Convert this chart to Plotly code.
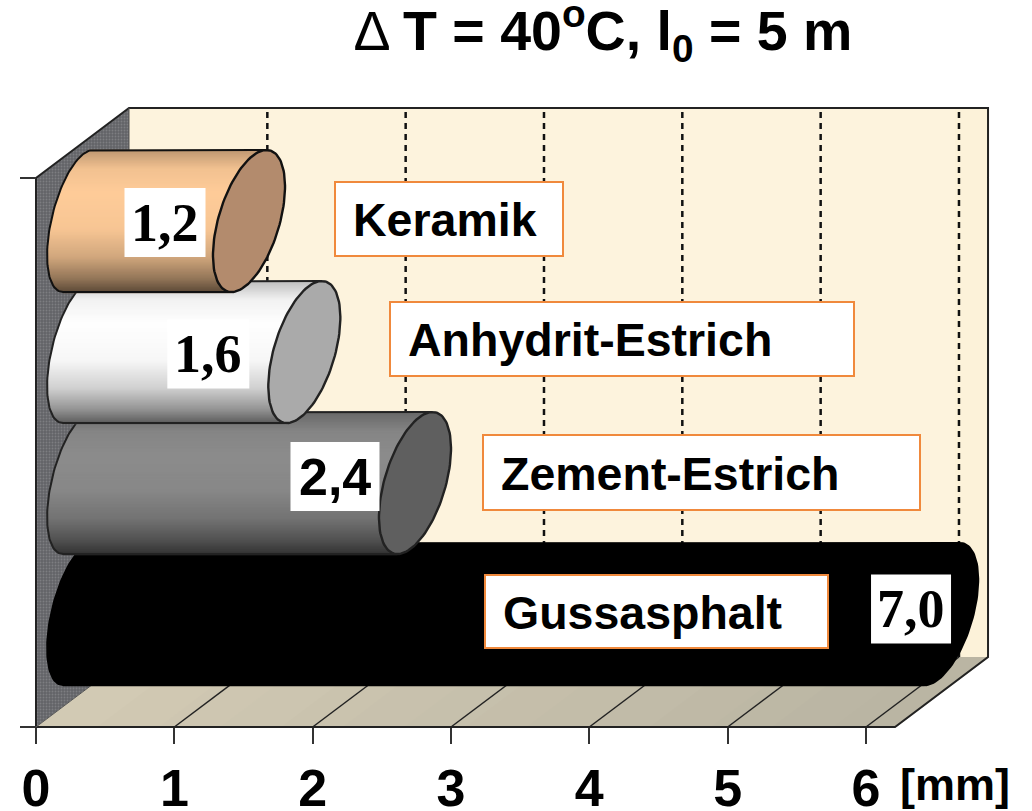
import numpy as np
import plotly.graph_objects as go

# ---- data ----
categories = ["Keramik", "Anhydrit-Estrich", "Zement-Estrich", "Gussasphalt"]
values = [1.2, 1.6, 2.4, 7.0]
value_labels = ["1,2", "1,6", "2,4", "7,0"]
x_ticks = [0, 1, 2, 3, 4, 5, 6]
x_tick_labels = ["0", "1", "2", "3", "4", "5", "6"]
unit_label = "[mm]"
title_text = "Δ <b>T = 40<sup>o</sup>C, l<sub>0</sub> = 5 m</b>"

# ---- styles / layout ----
W, H = 1032, 811
PX_MM, PX_BAND = 138.33, 137.25
X0, Y0 = 36, 727
AXIS_MAX = 6.21
BANDS = 4
DX, DY = 93 / PX_MM, 70 / PX_BAND
BODY_BASE = 47 / PX_MM
CLIP_MAX = 6.21
CYL_BOTTOM, CYL_STEP = 0.823, 131 / PX_BAND
ELL_A, ELL_K, ELL_B = 31.5 / PX_MM, 17.5 / PX_MM, 71 / PX_BAND
LEFT_C, LEFT_A, LEFT_K = -5 / PX_MM, 27 / PX_MM, 15 / PX_MM

base_colors = [(255, 204, 153), (255, 255, 255), (140, 140, 140), (0, 0, 0)]
cap_colors = ["#B38B6D", "#AAAAAA", "#5F5F5F", "#000000"]
outline_colors = ["#111111", "#222222", "#222222", "#000000"]
shade_pos = [0, .13, .3, .55, .75, .9, 1]
shade_val = [.75, .95, 1, .97, .82, .58, .36]
WALL, EDGE = "#FDF3DD", "#222222"
FLOOR_L, FLOOR_R = (210, 202, 180), (186, 181, 163)
ORANGE = "#F0893C"

SANS, SERIF = "Liberation Sans", "Liberation Serif"
value_fonts = [SERIF, SERIF, SANS, SERIF]
value_sizes = [54, 54, 52, 54]
value_box_off = [(-84, -1.5), (-96, -2), (-80, 6.5), (-31, 5)]
VALUE_BOX_W = [81, 82, 89, 80]
VALUE_BOX_H = 69
name_boxes = [(335, 563, 182, 256), (390, 854, 302, 376), (483, 920, 435, 510), (485, 828, 575, 648)]
NAME_PAD = 16
NAME_SIZE = 46.5


def xpx(p):
    return (p - X0) / PX_MM


def ypx(p):
    return (Y0 - p) / PX_BAND


fig = go.Figure()


def poly(xs, ys, fill=None, line=None, width=0, dash=None, pattern=None):
    kw = dict(x=xs, y=ys, mode="lines", hoverinfo="skip", showlegend=False,
              line=dict(color=line or "rgba(0,0,0,0)", width=width, dash=dash))
    if fill:
        kw.update(fill="toself", fillcolor=fill)
    if pattern:
        kw["fillpattern"] = pattern
    fig.add_trace(go.Scatter(**kw))


# back wall, side wall, floor
poly([DX, AXIS_MAX + DX, AXIS_MAX + DX, DX, DX], [BANDS + DY, BANDS + DY, DY, DY, BANDS + DY], fill=WALL)
poly([5.97 + DX, AXIS_MAX + DX, AXIS_MAX + DX, 5.97 + DX], [BANDS + DY, BANDS + DY, DY, DY], fill="#FCF2D9")
poly([0, DX, DX, 0, 0], [BANDS, BANDS + DY, DY, 0, BANDS], fill="#66676B",
     pattern=dict(shape=".", fgcolor="#98999C", bgcolor="#626367", size=3, solidity=0.3))
STEPS = 14
for k in range(STEPS):
    a, b = AXIS_MAX * k / STEPS, AXIS_MAX * (k + 1) / STEPS + 0.01
    f = k / (STEPS - 1)
    col = "rgb(%d,%d,%d)" % tuple(int(l + (r - l) * f) for l, r in zip(FLOOR_L, FLOOR_R))
    poly([a, b, b + DX, a + DX, a], [0, 0, DY, DY, 0], fill=col)

# grid lines on the wall and floor
for t in x_ticks[1:]:
    poly([t + DX, t + DX], [DY, BANDS + DY], line="#111111", width=2.5, dash="6px,5px")
    poly([t, t + DX], [0, DY], line="#222222", width=1.5)

# wall frame
poly([0, DX, AXIS_MAX + DX, AXIS_MAX + DX, AXIS_MAX, 0, 0, DX], [BANDS, BANDS + DY, BANDS + DY, DY, 0, 0, BANDS, BANDS + DY],
     line=EDGE, width=2)
poly([DX, DX], [BANDS + DY, DY], line="#555555", width=1)
poly([0, DX], [0, DY], line="#555555", width=1)

# cylinders, front-most last
rows = np.arange(-ELL_B, ELL_B + 1e-9, 1.5 / PX_BAND)
tt = np.linspace(0, 2 * np.pi, 121)
for i in [3, 2, 1, 0]:
    cy = CYL_BOTTOM + (3 - i) * CYL_STEP
    end = BODY_BASE + min(values[i], CLIP_MAX)
    sn = rows / ELL_B
    cs = np.sqrt(np.clip(1 - sn * sn, 0, 1))
    xl = BODY_BASE + LEFT_C - LEFT_A * cs + LEFT_K * sn
    xr = end + ELL_K * sn
    if i == 3:
        xs, ys = [], []
        for a, b, r in zip(xl, xr, rows):
            xs += [float(a), float(b), None]
            ys += [float(cy + r), float(cy + r), None]
        poly(xs, ys, line="#000000", width=2.4)
    else:
        for a, b, r, s in zip(xl, xr, rows, sn):
            f = np.interp((1 - s) / 2, shade_pos, shade_val)
            c = base_colors[i]
            col = f"rgb({int(c[0]*f)},{int(c[1]*f)},{int(c[2]*f)})"
            poly([float(a), float(b)], [float(cy + r), float(cy + r)], line=col, width=2.4)
    # body outline: left arc + top and bottom edges
    th = np.linspace(np.pi / 2, 3 * np.pi / 2, 61)
    arcx = BODY_BASE + LEFT_C + LEFT_A * np.cos(th) + LEFT_K * np.sin(th)
    arcy = cy + ELL_B * np.sin(th)
    ox = np.concatenate([[end + ELL_K], arcx, [end - ELL_K]])
    oy = np.concatenate([[cy + ELL_B], arcy, [cy - ELL_B]])
    poly(ox.tolist(), oy.tolist(), line=outline_colors[i], width=2)
    # end cap
    poly((end + ELL_A * np.cos(tt) + ELL_K * np.sin(tt)).tolist(), (cy + ELL_B * np.sin(tt)).tolist(),
         fill=cap_colors[i], line=outline_colors[i], width=2.4)

shapes, annotations = [], []
for i, name in enumerate(categories):
    cy = CYL_BOTTOM + (3 - i) * CYL_STEP
    end = BODY_BASE + min(values[i], CLIP_MAX)
    ox, oy = value_box_off[i]
    cx_, cy_ = end + ox / PX_MM, cy + oy / PX_BAND
    hw, hh = VALUE_BOX_W[i] / 2 / PX_MM, VALUE_BOX_H / 2 / PX_BAND
    shapes.append(dict(type="rect", x0=cx_ - hw, x1=cx_ + hw, y0=cy_ - hh, y1=cy_ + hh,
                       fillcolor="white", line=dict(width=0), layer="above"))
    annotations.append(dict(x=cx_, y=cy_, text=f"<b>{value_labels[i]}</b>", showarrow=False,
                            xanchor="center", yanchor="middle",
                            font=dict(family=value_fonts[i], size=value_sizes[i], color="black")))
    l, r, t, b = name_boxes[i]
    shapes.append(dict(type="rect", x0=xpx(l), x1=xpx(r), y0=ypx(b), y1=ypx(t),
                       fillcolor="white", line=dict(width=2, color=ORANGE), layer="above"))
    annotations.append(dict(x=xpx(l + NAME_PAD), y=ypx((t + b) / 2 + 1), text=f"<b>{name}</b>", showarrow=False,
                            xanchor="left", yanchor="middle",
                            font=dict(family=SANS, size=NAME_SIZE, color="black")))
annotations.append(dict(x=xpx(955), y=ypx(784), text=f"<b>{unit_label}</b>", showarrow=False,
                        xanchor="center", yanchor="middle",
                        font=dict(family=SANS, size=45, color="black")))

fig.update_layout(
    width=W, height=H, margin=dict(l=0, r=0, t=0, b=0), autosize=False,
    paper_bgcolor="white", plot_bgcolor="white", showlegend=False,
    shapes=shapes, annotations=annotations,
    title=dict(text=title_text, x=603 / W, y=1 - 31 / H, xanchor="center", yanchor="middle", xref="paper", yref="paper",
               automargin=False, font=dict(family=SANS, size=55.5, color="black")),
    xaxis=dict(range=[xpx(0), xpx(W)], anchor="free", position=(H - Y0) / H, tickvals=x_ticks, automargin=False,
               ticktext=x_tick_labels, ticks="outside", ticklen=16, tickwidth=1.5, tickcolor="#333333",
               showgrid=False, zeroline=False, showline=False, tickangle=0,
               tickfont=dict(family=SANS, size=52, color="black", weight="bold")),
    yaxis=dict(range=[ypx(H), ypx(0)], anchor="free", position=X0 / W, tickvals=[0, BANDS], automargin=False,
               ticks="outside", ticklen=16, tickwidth=1.5, tickcolor="#333333", showticklabels=False,
               showgrid=False, zeroline=False, showline=False),
)

fig.write_html("out.html", config=dict(displayModeBar=False), post_script="document.body.style.margin='0';document.body.style.overflow='hidden';")
